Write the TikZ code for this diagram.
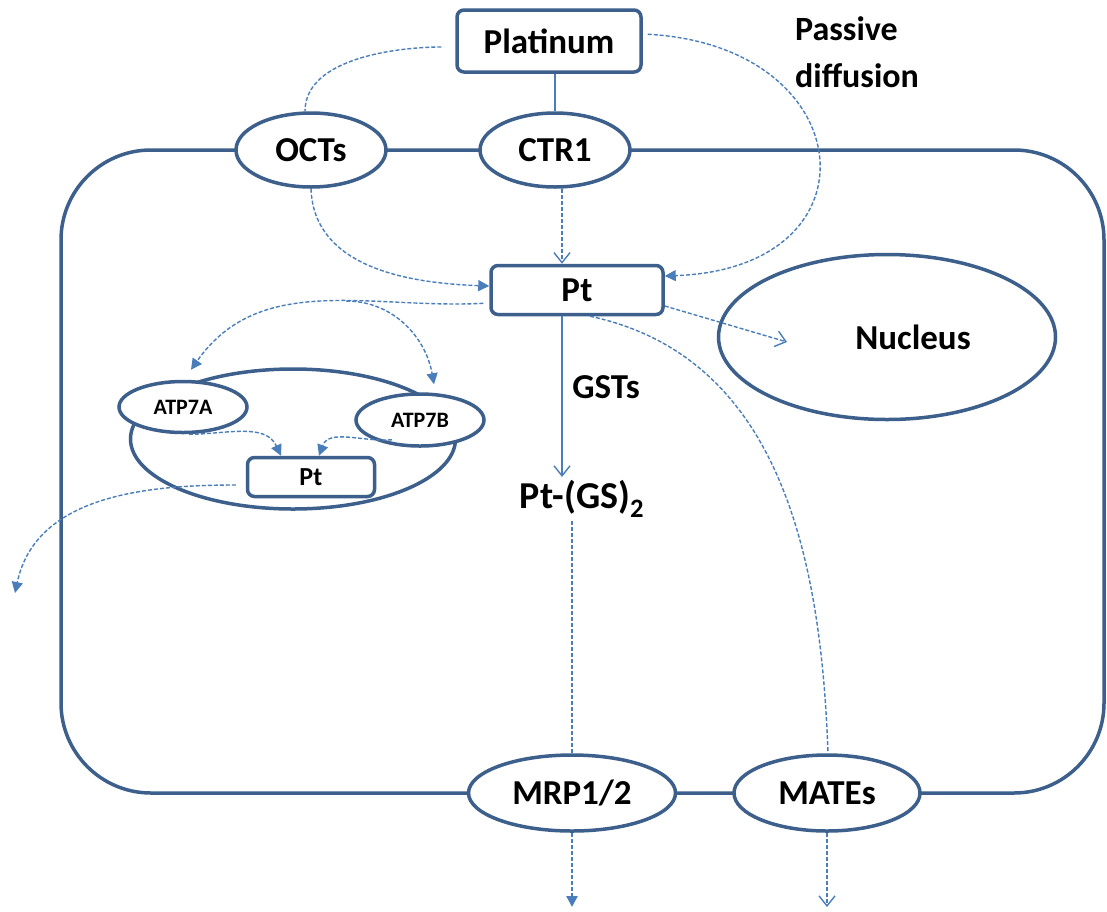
\documentclass[tikz,border=0pt]{standalone}
\usepackage{fontspec}
\setmainfont{Carlito}
\usetikzlibrary{shapes.geometric,arrows.meta}

\definecolor{wallblue}{RGB}{60,95,140}
\definecolor{flowblue}{RGB}{74,126,187}

\begin{document}
\begin{tikzpicture}[x=1pt,y=1pt,
  font=\fontsize{35}{42}\selectfont\bfseries,
  wall/.style={draw=wallblue, line width=3.5pt},
  box/.style={wall, rectangle, rounded corners=7pt, fill=white, inner sep=0pt},
  carrier/.style={wall, ellipse, fill=white, inner sep=0pt},
  flow/.style={draw=flowblue, line width=1.4pt, dash pattern=on 4pt off 2pt},
  solidflow/.style={draw=flowblue, line width=1.4pt},
  filltip/.style={-{Triangle[length=11pt,width=11pt]}},
  opentip/.style={-{Straight Barb[length=10pt,width=16pt]}}
]
\useasboundingbox (0,0) rectangle (1107,-911);

% cell membrane
\draw[wall, rounded corners=90pt] (61,-150) rectangle (1104,-793);

\node[box, minimum width=184, minimum height=62] (platinum) at (549,-41) {Platinum};
\node[align=left, font=\fontsize{34}{47}\selectfont\bfseries] (passive) at (857,-52)
  {Passive\\diffusion};

\node[carrier, minimum width=150, minimum height=74] (octs) at (311,-150) {OCTs};
\node[carrier, minimum width=150, minimum height=74] (ctr1) at (555,-150) {CTR1};
\node[carrier, minimum width=207, minimum height=76] (mrp) at (572,-793) {MRP1/2};
\node[carrier, minimum width=186, minimum height=76] (mates) at (827,-793) {MATEs};

\node[box, minimum width=172, minimum height=49] (pt) at (577,-290) {Pt};
\node[carrier, minimum width=337, minimum height=165] (nucleus) at (887,-337)
  {\hspace*{52pt}Nucleus};

% vesicle with ATP7A / ATP7B
\node[carrier, minimum width=325, minimum height=140] (vesicle) at (293,-439) {};
\node[carrier, minimum width=128, minimum height=51,
  font=\fontsize{22}{26}\selectfont\bfseries] (atpa) at (183,-407) {ATP7A};
\node[carrier, minimum width=128, minimum height=52,
  font=\fontsize{22}{26}\selectfont\bfseries] (atpb) at (420,-420) {ATP7B};
\node[box, minimum width=127, minimum height=39,
  font=\fontsize{26}{30}\selectfont\bfseries] (ptin) at (311,-477) {Pt};

\node (gsts) at (606,-387) {GSTs};
\node[font=\fontsize{38}{44}\selectfont\bfseries] (ptgs) at (582,-499)
  {Pt-(GS)$_{\mathbf 2}$};

\coordinate (nuctip) at (787,-342);
\coordinate (effluxA) at (15,-593);
\coordinate (mrpout) at (572,-907);
\coordinate (matesout) at (827,-907);

% uptake
\draw[solidflow] (ctr1.north) -- (ctr1.north |- platinum.south);
\draw[flow, shorten <=14pt] ([yshift=-6]platinum.west) to[out=180, in=90, looseness=0.85]
  ([xshift=-6]octs.north);
\draw[flow, filltip, shorten <=5pt] ([yshift=7]platinum.east)
  to[out=-3, in=2, looseness=2.3] ([yshift=14]pt.east);
\draw[flow, filltip] (octs.south) to[out=-88, in=178] ([yshift=4]pt.west);
\draw[flow, opentip] ([xshift=7]ctr1.south) -- ([xshift=7]ctr1.south |- pt.north);

% inside the cell
\draw[flow, opentip] ([yshift=-16]pt.east) -- (nuctip);
\draw[solidflow, opentip] ([xshift=-15]pt.south) -- ([xshift=-15]pt.south |- ptgs.north);
\draw[flow] (mrp.north |- ptgs.south) -- (mrp.north);
\draw[flow] ([xshift=13]pt.south) to[out=-12, in=92] ([xshift=1]mates.north);

% ATP7A / ATP7B route
\draw[flow, filltip, shorten <=6pt] ([yshift=-13]pt.west)
  to[out=183, in=55] coordinate[pos=0.42] (split) ([xshift=8,yshift=10]atpa.north);
\draw[flow, filltip] (split) to[out=0, in=100] ([xshift=14,yshift=8]atpb.north);
\draw[flow, filltip] ([xshift=6]atpa.south) to[out=0, in=115] ([xshift=-30]ptin.north);
\draw[flow, filltip] ([xshift=-28,yshift=8]atpb.south) to[out=185, in=70]
  ([xshift=8]ptin.north);
\draw[flow, filltip, shorten <=10pt] ([yshift=-8]ptin.west) to[out=180, in=78] (effluxA);

% efflux
\draw[flow, line width=2.4pt, filltip] (mrp.south) -- (mrpout);
\draw[flow, opentip] (mates.south) -- (matesout);

\end{tikzpicture}
\end{document}
